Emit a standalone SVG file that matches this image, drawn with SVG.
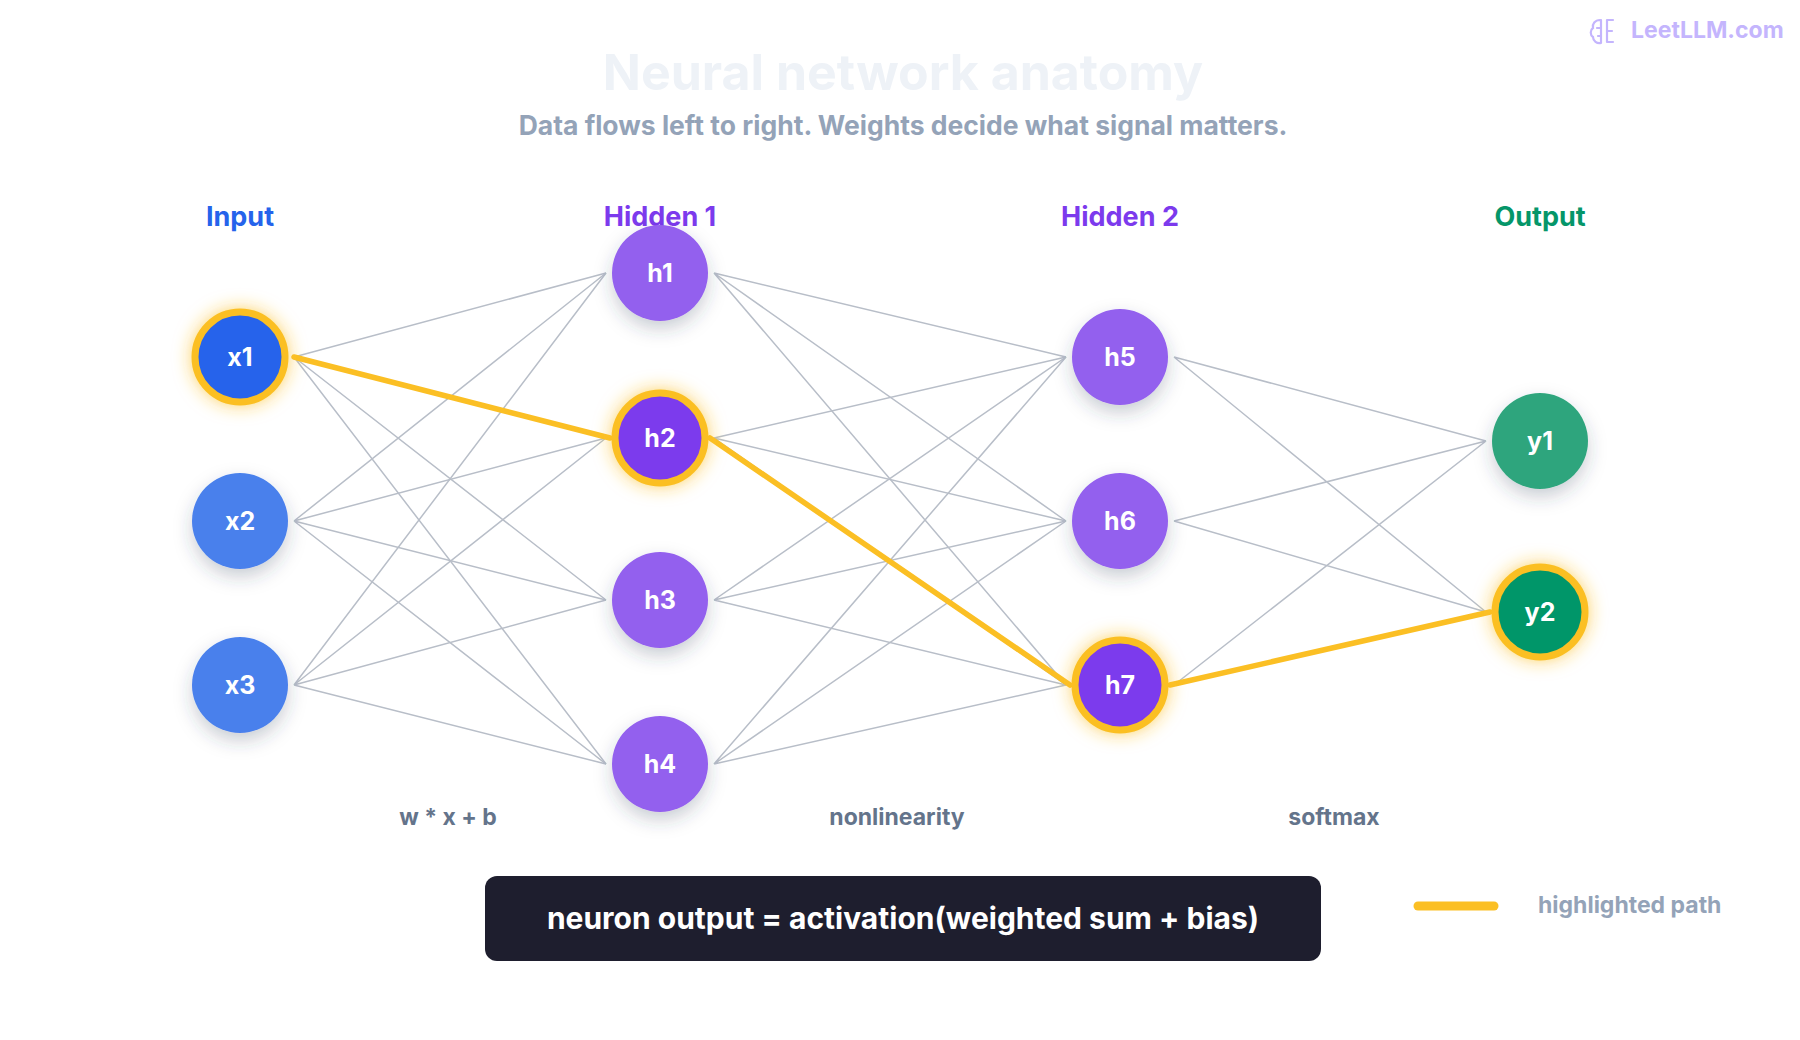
<svg xmlns="http://www.w3.org/2000/svg" width="1800" height="1040" viewBox="0 0 1800 1040">
<defs>
<style>
.t{font-family:Inter,"Liberation Sans",sans-serif;font-weight:700}
.e{stroke:#b8bec8;stroke-width:1.5;fill:none}
.hl{stroke:#fbbf24;stroke-width:5.5;stroke-linecap:round;fill:none}
.lbl{font-family:Inter,"Liberation Sans",sans-serif;font-weight:700;font-size:25px;fill:#fff;text-anchor:middle}
.ring{stroke:#fbbf24;stroke-width:7}
</style>
<filter id="sh" x="-50%" y="-50%" width="200%" height="220%"><feDropShadow dx="0" dy="8" stdDeviation="9" flood-color="#334155" flood-opacity="0.25"/></filter>
<filter id="gl" x="-60%" y="-60%" width="220%" height="220%"><feDropShadow dx="0" dy="0" stdDeviation="9" flood-color="#fbbf24" flood-opacity="0.7"/></filter>
</defs>
<rect width="1800" height="1040" fill="#fff"/>
<g id="logo">
<path d="M1600 20c-5 0-8 4-7 8-3 2-3 7 0 9 0 4 4 7 8 6M1601 20v23M1601 28h-4M1601 36h-3M1607 20v22M1607 20h6M1607 31h5M1607 42h6" stroke="#c4b5fd" stroke-width="2.2" fill="none" stroke-linecap="round"/>
<text x="1631" y="38" class="t" font-size="23" fill="#c4b5fd">LeetLLM.com</text>
</g>
<text x="903" y="90" class="t" font-size="50" fill="#eef2f7" text-anchor="middle">Neural network anatomy</text>
<text x="903" y="135" class="t" font-size="26.5" fill="#94a3b8" text-anchor="middle" font-weight="600">Data flows left to right. Weights decide what signal matters.</text>
<g id="layer-labels" class="t" font-size="27" text-anchor="middle">
<text x="240" y="226" fill="#2563eb">Input</text>
<text x="660" y="226" fill="#7c3aed">Hidden 1</text>
<text x="1120" y="226" fill="#7c3aed">Hidden 2</text>
<text x="1540" y="226" fill="#059669">Output</text>
</g>
<g id="connectors">
<g class="e">
<path d="M294 357L606 273M294 357L606 438M294 357L606 600M294 357L606 764"/>
<path d="M294 521L606 273M294 521L606 438M294 521L606 600M294 521L606 764"/>
<path d="M294 685L606 273M294 685L606 438M294 685L606 600M294 685L606 764"/>
<path d="M714 273L1066 357M714 273L1066 521M714 273L1066 685"/>
<path d="M714 438L1066 357M714 438L1066 521M714 438L1066 685"/>
<path d="M714 600L1066 357M714 600L1066 521M714 600L1066 685"/>
<path d="M714 764L1066 357M714 764L1066 521M714 764L1066 685"/>
<path d="M1174 357L1486 441M1174 357L1486 612M1174 521L1486 441M1174 521L1486 612M1174 685L1486 441M1174 685L1486 612"/>
</g>
<path class="hl" d="M294 357L610 438"/>
<path class="hl" d="M710 438L1070 685"/>
<path class="hl" d="M1170 685L1490 612"/>
</g>
<g id="x1"><circle cx="240" cy="357" r="45" fill="#2563eb" class="ring" filter="url(#gl)"/><text x="240" y="366" class="lbl">x1</text></g>
<g id="x2"><circle cx="240" cy="521" r="48" fill="#4a80ec" filter="url(#sh)"/><text x="240" y="530" class="lbl">x2</text></g>
<g id="x3"><circle cx="240" cy="685" r="48" fill="#4a80ec" filter="url(#sh)"/><text x="240" y="694" class="lbl">x3</text></g>
<g id="h1"><circle cx="660" cy="273" r="48" fill="#9360ee" filter="url(#sh)"/><text x="660" y="282" class="lbl">h1</text></g>
<g id="h2"><circle cx="660" cy="438" r="45" fill="#7c3aed" class="ring" filter="url(#gl)"/><text x="660" y="447" class="lbl">h2</text></g>
<g id="h3"><circle cx="660" cy="600" r="48" fill="#9360ee" filter="url(#sh)"/><text x="660" y="609" class="lbl">h3</text></g>
<g id="h4"><circle cx="660" cy="764" r="48" fill="#9360ee" filter="url(#sh)"/><text x="660" y="773" class="lbl">h4</text></g>
<g id="h5"><circle cx="1120" cy="357" r="48" fill="#9360ee" filter="url(#sh)"/><text x="1120" y="366" class="lbl">h5</text></g>
<g id="h6"><circle cx="1120" cy="521" r="48" fill="#9360ee" filter="url(#sh)"/><text x="1120" y="530" class="lbl">h6</text></g>
<g id="h7"><circle cx="1120" cy="685" r="45" fill="#7c3aed" class="ring" filter="url(#gl)"/><text x="1120" y="694" class="lbl">h7</text></g>
<g id="y1"><circle cx="1540" cy="441" r="48" fill="#2fa57d" filter="url(#sh)"/><text x="1540" y="450" class="lbl">y1</text></g>
<g id="y2"><circle cx="1540" cy="612" r="45" fill="#059669" class="ring" filter="url(#gl)"/><text x="1540" y="621" class="lbl">y2</text></g>
<g id="step-labels" class="t" font-size="23" fill="#64748b" text-anchor="middle" font-weight="600">
<text x="448" y="825">w * x + b</text>
<text x="897" y="825">nonlinearity</text>
<text x="1334" y="825">softmax</text>
</g>
<g id="formula">
<rect x="485" y="876" width="836" height="85" rx="12" fill="#1e1e2e"/>
<text x="903" y="929" class="t" font-size="30" fill="#fff" text-anchor="middle" font-weight="600">neuron output = activation(weighted sum + bias)</text>
</g>
<g id="legend">
<line x1="1418" y1="906" x2="1494" y2="906" stroke="#fbbf24" stroke-width="9" stroke-linecap="round"/>
<text x="1538" y="913" class="t" font-size="23" fill="#94a3b8" font-weight="600">highlighted path</text>
</g>
</svg>
